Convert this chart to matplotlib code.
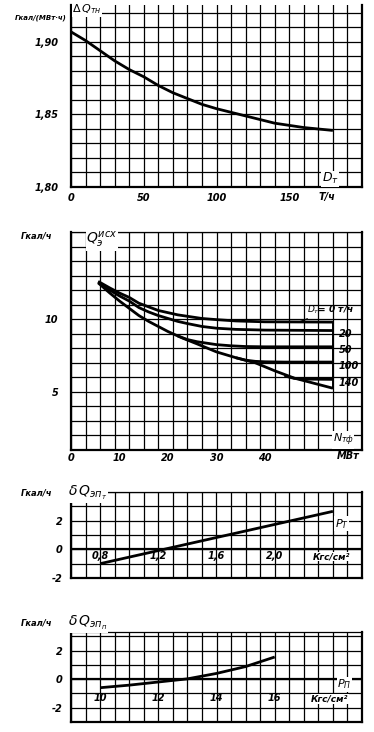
import matplotlib
matplotlib.use('Agg')
import matplotlib.pyplot as plt
import numpy as np

plt.rcParams['font.family'] = ['DejaVu Sans']
plt.rcParams['mathtext.fontset'] = 'dejavusans'

# ---------------- data ----------------
# Panel 1: dQ_tn vs D_T (t/h)
p1_x = [0, 10, 20, 30, 40, 50, 60, 70, 80, 90, 100, 120, 140, 160, 180]
p1_y = [1.907, 1.901, 1.894, 1.887, 1.881, 1.876, 1.870, 1.865, 1.861, 1.857,
        1.854, 1.849, 1.844, 1.841, 1.839]
p1_xticks = [0, 50, 100, 150]
p1_xlabels = ['0', '50', '100', '150']
p1_yticks = [1.80, 1.85, 1.90]
p1_ylabels = ['1,80', '1,85', '1,90']

# Panel 2: Q_e^isx vs N_tf (MW) for several D_T
p2_x_d0 = [5.6, 8, 10, 12, 14, 16, 18, 20, 22, 24, 27, 30, 34, 40, 54]
p2_y_d0 = [12.6, 12.15, 11.8, 11.5, 11.1, 10.85, 10.6, 10.45, 10.3, 10.2, 10.05,
           9.97, 9.88, 9.82, 9.8]
p2_x_d20 = [5.6, 8, 10, 12, 14, 16, 18, 20, 22, 24, 27, 30, 34, 40, 54]
p2_y_d20 = [12.55, 12.0, 11.6, 11.25, 10.8, 10.5, 10.25, 10.05, 9.85, 9.7, 9.5,
            9.38, 9.3, 9.25, 9.22]
p2_x_env = [5.6, 8, 10, 12, 14, 16, 18, 20, 23, 26, 30, 34, 38, 42, 46, 50, 54]
p2_y_env = [12.5, 11.8, 11.25, 10.75, 10.25, 9.85, 9.5, 9.15, 8.7, 8.3, 7.75,
            7.35, 7.0, 6.45, 5.95, 5.6, 5.25]
p2_x_d50 = [22, 24, 26, 28, 30, 33, 36, 40, 54]
p2_y_d50 = [8.85, 8.6, 8.45, 8.35, 8.25, 8.17, 8.12, 8.1, 8.1]
p2_x_d100 = [34, 36, 38, 40, 44, 54]
p2_y_d100 = [7.35, 7.18, 7.1, 7.07, 7.05, 7.05]
p2_x_d140 = [44, 46, 48, 54]
p2_y_d140 = [6.1, 5.93, 5.88, 5.86]
p2_xticks = [0, 10, 20, 30, 40]
p2_xlabels = ['0', '10', '20', '30', '40']
p2_yticks = [5, 10]
p2_ylabels = ['5', '10']

# Panel 3: dQ_ept vs P_T
p3_x = [0.8, 2.4]
p3_y = [-1.0, 2.65]
p3_xticks = [0.8, 1.2, 1.6, 2.0]
p3_xlabels = ['0,8', '1,2', '1,6', '2,0']
p3_yticks = [-2, 0, 2]
p3_ylabels = ['-2', '0', '2']

# Panel 4: dQ_epp vs P_P
p4_x = [10, 11, 12, 13, 14, 15, 16]
p4_y = [-0.6, -0.42, -0.2, 0.02, 0.4, 0.88, 1.55]
p4_xticks = [10, 12, 14, 16]
p4_xlabels = ['10', '12', '14', '16']
p4_yticks = [-2, 0, 2]
p4_ylabels = ['-2', '0', '2']

# ---------------- figure ----------------
W, H = 374, 732
fig = plt.figure(figsize=(W / 100, H / 100), dpi=100)

FONT = dict(fontstyle='italic', fontweight='bold', fontsize=7)
WHITE = dict(fc='white', ec='none', pad=0.3)


def axes_px(left, top, right, bottom):
    return fig.add_axes([left / W, 1 - bottom / H, (right - left) / W, (bottom - top) / H])


def ftext(x, y, s, **kw):
    d = dict(FONT)
    d.update(kw)
    fig.text(x / W, 1 - y / H, s, **d)


def style(ax, xgrid, ygrid, top=True):
    ax.xaxis.remove_overlapping_locs = False
    ax.yaxis.remove_overlapping_locs = False
    ax.set_xticks(xgrid, minor=True)
    ax.set_yticks(ygrid, minor=True)
    ax.grid(which='minor', color='black', lw=0.9)
    ax.grid(which='major', visible=False)
    ax.set_axisbelow(True)
    ax.tick_params(which='both', length=0)
    for s in ax.spines.values():
        s.set_linewidth(1.6)
    ax.spines['top'].set_visible(top)
    if top:
        ax.spines['top'].set_linewidth(0.9)
    for lab in ax.get_xticklabels() + ax.get_yticklabels():
        lab.set_fontstyle('italic')
        lab.set_fontweight('bold')
        lab.set_fontsize(7)


LW = 2.0

# Panel 1
ax1 = axes_px(71, 5, 362, 187)
ax1.set_xlim(0, 200)
ax1.set_ylim(1.80, 1.9255)
ax1.set_xticks(p1_xticks, p1_xlabels)
ax1.set_yticks(p1_yticks, p1_ylabels)
style(ax1, np.arange(0, 201, 10), np.arange(1.80, 1.9201, 0.01), top=False)
ax1.tick_params(axis='x', pad=4)
ax1.tick_params(axis='y', pad=9)
ax1.plot(p1_x, p1_y, color='black', lw=LW, solid_capstyle='butt')
ax1.text(0.89, 0.045, r'$D_т$', transform=ax1.transAxes, fontsize=9,
         ha='center', va='center', bbox=dict(fc='white', ec='none', pad=0.5))
ftext(327, 197, 'Т/ч', ha='center', va='center')
ftext(41, 18, 'Гкал/(МВт·ч)', ha='center', va='center', fontsize=5)
ftext(87, 9, r'$\Delta\, Q_{тн}$', ha='center', va='center', fontsize=8,
      bbox=dict(fc='white', ec='none', pad=0.5))

# Panel 2
ax2 = axes_px(71, 232, 362, 450)
ax2.set_xlim(0, 60)
ax2.set_ylim(1, 16)
ax2.set_xticks(p2_xticks, p2_xlabels)
ax2.set_yticks(p2_yticks, p2_ylabels)
style(ax2, np.arange(0, 61, 3), np.arange(1, 17, 1))
ax2.tick_params(axis='x', pad=2)
ax2.tick_params(axis='y', pad=9)
for xs, ys in [(p2_x_d0, p2_y_d0), (p2_x_d20, p2_y_d20), (p2_x_env, p2_y_env),
               (p2_x_d50, p2_y_d50), (p2_x_d100, p2_y_d100), (p2_x_d140, p2_y_d140)]:
    ax2.plot(xs, ys, color='black', lw=LW, solid_capstyle='butt')
xe = p2_x_d0[-1]
ax2.plot([xe, xe], [p2_y_env[-1], p2_y_d0[-1]], color='black', lw=1.4)
ax2.annotate(r'$D_т$' + '= 0 т/ч', xy=(xe - 7.0, p2_y_d0[-1]),
             xytext=(xe - 5.4, p2_y_d0[-1] + 0.85),
             fontsize=6.5, fontstyle='italic', fontweight='bold', ha='left', va='center',
             arrowprops=dict(arrowstyle='-', color='black', lw=0.9, shrinkA=0, shrinkB=0))
for yv, lab in [(p2_y_d20[-1], '20'), (p2_y_d50[-1], '50'), (p2_y_d100[-1], '100'),
                (p2_y_d140[-1], '140')]:
    ax2.text(xe + 1.2, yv - 0.25, lab, ha='left', va='center', **FONT)
ax2.text(0.935, 0.045, r'$N_{тф}$', transform=ax2.transAxes, fontsize=8,
         ha='center', va='center', bbox=dict(fc='white', ec='none', pad=0.5))
ftext(348, 456, 'МВт', ha='center', va='center')
ftext(37, 236, 'Гкал/ч', ha='center', va='center', fontsize=6)
ftext(102, 240, r'$Q_э^{исх}$', ha='center', va='center', fontsize=10,
      bbox=dict(fc='white', ec='none', pad=0.5))

# Panel 3
ax3 = axes_px(71, 492, 362, 578)
ax3.set_xlim(0.6, 2.6)
ax3.set_ylim(-2, 4)
ax3.set_xticks([])
ax3.set_yticks(p3_yticks, p3_ylabels)
style(ax3, np.arange(0.6, 2.601, 0.1), np.arange(-2, 4.01, 1))
ax3.tick_params(axis='y', pad=6)
ax3.axhline(0, color='black', lw=1.6)
ax3.plot(p3_x, p3_y, color='black', lw=LW, solid_capstyle='butt')
for xv, lab in zip(p3_xticks, p3_xlabels):
    ax3.text(xv, -0.12, lab, ha='center', va='top', **FONT)
ax3.text(0.93, 0.63, r'$P_T$', transform=ax3.transAxes, fontsize=8, ha='center',
         va='center', bbox=WHITE)
ax3.text(0.895, 0.25, 'Кгс/см²', transform=ax3.transAxes, ha='center', va='center',
         bbox=WHITE, fontstyle='italic', fontweight='bold', fontsize=6.5)
ftext(37, 493, 'Гкал/ч', ha='center', va='center', fontsize=6)
ftext(88, 493, r'$\delta\,Q_{эп_т}$', ha='center', va='center', fontsize=10,
      bbox=dict(fc='white', ec='none', pad=0.5))

# Panel 4
ax4 = axes_px(71, 632, 362, 722)
ax4.set_xlim(9, 19)
ax4.set_ylim(-3, 3.3)
ax4.set_xticks([])
ax4.set_yticks(p4_yticks, p4_ylabels)
style(ax4, np.arange(9, 19.01, 0.5), np.arange(-3, 3.01, 1))
ax4.tick_params(axis='y', pad=6)
ax4.axhline(0, color='black', lw=1.6)
ax4.plot(p4_x, p4_y, color='black', lw=LW, solid_capstyle='butt')
for xv, lab in zip(p4_xticks, p4_xlabels):
    ax4.text(xv, -1.35, lab, ha='center', va='center', **FONT)
ax4.text(0.94, 0.42, r'$P_П$', transform=ax4.transAxes, fontsize=8, ha='center',
         va='center', bbox=WHITE)
ax4.text(0.89, 0.26, 'Кгс/см²', transform=ax4.transAxes, ha='center', va='center',
         bbox=WHITE, fontstyle='italic', fontweight='bold', fontsize=6.5)
ftext(37, 623, 'Гкал/ч', ha='center', va='center', fontsize=6)
ftext(88, 623, r'$\delta\,Q_{эп_п}$', ha='center', va='center', fontsize=10,
      bbox=dict(fc='white', ec='none', pad=0.5))

fig.savefig('out.png', dpi=100)
